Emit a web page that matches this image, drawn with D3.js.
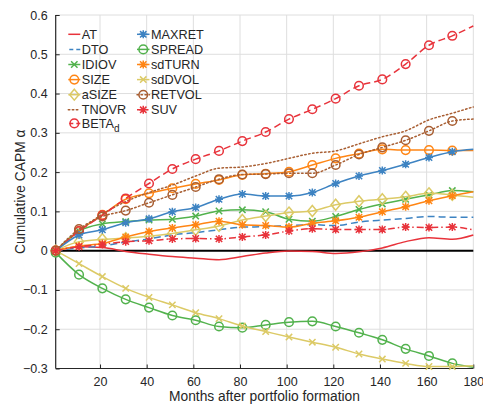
<!DOCTYPE html>
<html>
<head>
<meta charset="utf-8">
<script src="https://cdn.jsdelivr.net/npm/d3@7"></script>
<style>
  html, body { margin: 0; padding: 0; background: #fff; }
  svg { display: block; font-family: "Liberation Sans", Arial, Helvetica, sans-serif; }
</style>
</head>
<body>
<svg id="chart" width="483" height="405"></svg>
<script>
// Months after portfolio formation at which each alpha series is sampled
const months = [1, 11, 21, 31, 41, 51, 61, 71, 81, 91, 101, 111, 121, 131, 141, 151, 161, 171, 180];

// Cumulative CAPM alpha for each anomaly portfolio
const AT     = [0, 0.010, 0.008, -0.002, -0.009, -0.015, -0.019, -0.023, -0.015, -0.006, -0.001, -0.002, -0.007, -0.003, 0.007, 0.023, 0.033, 0.029, 0.040];
const DTO    = [0, 0.007, 0.012, 0.022, 0.030, 0.040, 0.046, 0.053, 0.060, 0.061, 0.064, 0.066, 0.064, 0.073, 0.078, 0.082, 0.087, 0.085, 0.085];
const IDIOV  = [0, 0.050, 0.068, 0.074, 0.078, 0.080, 0.088, 0.101, 0.104, 0.099, 0.080, 0.075, 0.087, 0.105, 0.119, 0.131, 0.142, 0.153, 0.150];
const SIZE   = [0, 0.050, 0.091, 0.131, 0.146, 0.159, 0.170, 0.180, 0.193, 0.196, 0.201, 0.218, 0.235, 0.247, 0.258, 0.256, 0.256, 0.255, 0.255];
const aSIZE  = [0, 0.023, 0.029, 0.032, 0.037, 0.044, 0.053, 0.063, 0.078, 0.088, 0.097, 0.101, 0.117, 0.126, 0.131, 0.137, 0.146, 0.142, 0.136];
const TNOVR  = [0, 0.050, 0.093, 0.125, 0.148, 0.167, 0.190, 0.210, 0.213, 0.222, 0.235, 0.248, 0.254, 0.272, 0.290, 0.305, 0.333, 0.350, 0.366];
const BETAd  = [0, 0.050, 0.090, 0.133, 0.171, 0.208, 0.233, 0.254, 0.279, 0.302, 0.335, 0.360, 0.387, 0.420, 0.436, 0.475, 0.523, 0.547, 0.572];
const MAXRET = [0, 0.040, 0.053, 0.071, 0.081, 0.099, 0.110, 0.131, 0.144, 0.139, 0.139, 0.148, 0.171, 0.190, 0.204, 0.220, 0.237, 0.252, 0.258];
const SPREAD = [-0.005, -0.061, -0.096, -0.124, -0.145, -0.165, -0.177, -0.193, -0.196, -0.189, -0.182, -0.180, -0.193, -0.209, -0.227, -0.250, -0.268, -0.287, -0.297];
const sdTURN = [0, 0.012, 0.018, 0.035, 0.049, 0.058, 0.066, 0.075, 0.066, 0.064, 0.060, 0.070, 0.076, 0.085, 0.099, 0.112, 0.127, 0.140, 0.150];
const sdDVOL = [0, -0.033, -0.066, -0.096, -0.119, -0.138, -0.158, -0.173, -0.192, -0.206, -0.220, -0.233, -0.246, -0.263, -0.276, -0.287, -0.295, -0.295, -0.293];
const RETVOL = [0, 0.055, 0.087, 0.102, 0.122, 0.142, 0.162, 0.182, 0.194, 0.195, 0.197, 0.197, 0.218, 0.245, 0.263, 0.281, 0.305, 0.330, 0.335];
const SUV    = [0, 0.010, 0.016, 0.023, 0.025, 0.030, 0.031, 0.030, 0.035, 0.040, 0.050, 0.056, 0.054, 0.054, 0.054, 0.060, 0.059, 0.060, 0.053];

// Axis ticks
const xTicks = [20, 40, 60, 80, 100, 120, 140, 160, 180];
const yTicks = [-0.3, -0.2, -0.1, 0, 0.1, 0.2, 0.3, 0.4, 0.5, 0.6];

// Palette
const RED = "#e8333b", BLUE = "#3d83c2", GREEN = "#52b24d", ORANGE = "#ff8514", KHAKI = "#dcca66", BROWN = "#a85e32";

// Series in drawing order (column-wise legend order)
const series = [
  { name: "AT",     values: AT,     color: RED,    dash: null,              marker: null },
  { name: "DTO",    values: DTO,    color: BLUE,   dash: "7,4",             marker: null },
  { name: "IDIOV",  values: IDIOV,  color: GREEN,  dash: null,              marker: "x" },
  { name: "SIZE",   values: SIZE,   color: ORANGE, dash: null,              marker: "o" },
  { name: "aSIZE",  values: aSIZE,  color: KHAKI,  dash: null,              marker: "d" },
  { name: "TNOVR",  values: TNOVR,  color: BROWN,  dash: "1.5,2.5",         marker: null },
  { name: "BETA",   sub: "d", values: BETAd, color: RED, dash: "7,4",       marker: "o" },
  { name: "MAXRET", values: MAXRET, color: BLUE,   dash: null,              marker: "*" },
  { name: "SPREAD", values: SPREAD, color: GREEN,  dash: null,              marker: "o" },
  { name: "sdTURN", values: sdTURN, color: ORANGE, dash: null,              marker: "*" },
  { name: "sdDVOL", values: sdDVOL, color: KHAKI,  dash: null,              marker: "x" },
  { name: "RETVOL", values: RETVOL, color: BROWN,  dash: "1.5,2.5",         marker: "o" },
  { name: "SUV",    values: SUV,    color: RED,    dash: "7,3,1.5,3",       marker: "*" }
];

const svg = d3.select("#chart");
const box = { left: 55.7, right: 473.3, top: 15, bottom: 368.5 };
const textColor = "#262626";

const x = d3.scaleLinear().domain([1, 180]).range([box.left, box.right]);
const y = d3.scaleLinear().domain([-0.3, 0.6]).range([box.bottom, box.top]);

// Grid
const grid = svg.append("g").attr("stroke", "#dedede").attr("stroke-width", 1);
grid.selectAll("line.gx").data(xTicks).join("line")
  .attr("x1", d => x(d)).attr("x2", d => x(d))
  .attr("y1", box.top).attr("y2", box.bottom);
grid.selectAll("line.gy").data(yTicks).join("line")
  .attr("x1", box.left).attr("x2", box.right)
  .attr("y1", d => y(d)).attr("y2", d => y(d));

// Axes with inward ticks
const xAxis = svg.append("g").attr("transform", `translate(0,${box.bottom})`)
  .call(d3.axisBottom(x).tickValues(xTicks).tickSize(-4).tickPadding(9).tickFormat(d3.format("d")));
const yAxis = svg.append("g").attr("transform", `translate(${box.left},0)`)
  .call(d3.axisLeft(y).tickValues(yTicks).tickSize(-4).tickPadding(8)
    .tickFormat(d => d === 0 ? "0" : d3.format(".1f")(d)));
[xAxis, yAxis].forEach(a => {
  a.select(".domain").attr("stroke", textColor).attr("stroke-width", 1.2);
  a.selectAll(".tick line").attr("stroke", textColor).attr("stroke-width", 1);
  a.selectAll(".tick text").attr("fill", textColor).style("font-size", "12.5px")
    .style("font-family", "'Liberation Sans', Arial, sans-serif");
});
xAxis.select(".domain").attr("d", `M${box.left},0H${box.right}`);
yAxis.select(".domain").attr("d", `M0,${box.bottom}V${box.top}`);

// Zero reference line
svg.append("line")
  .attr("x1", box.left).attr("x2", box.right)
  .attr("y1", y(0)).attr("y2", y(0))
  .attr("stroke", "#000").attr("stroke-width", 2);

// Marker drawing helper
function drawMarker(g, type, cx, cy, color) {
  const sw = 1.5;
  if (type === "o") {
    g.append("circle").attr("cx", cx).attr("cy", cy).attr("r", 4.3)
      .attr("fill", "none").attr("stroke", color).attr("stroke-width", sw);
  } else if (type === "d") {
    g.append("path")
      .attr("d", `M${cx},${cy - 5.5}L${cx + 4.6},${cy}L${cx},${cy + 5.5}L${cx - 4.6},${cy}Z`)
      .attr("fill", "none").attr("stroke", color).attr("stroke-width", sw);
  } else if (type === "x") {
    const s = 3.2;
    g.append("path")
      .attr("d", `M${cx - s},${cy - s}L${cx + s},${cy + s}M${cx - s},${cy + s}L${cx + s},${cy - s}`)
      .attr("stroke", color).attr("stroke-width", sw);
  } else if (type === "*") {
    const s = 3.2, t = 4;
    g.append("path")
      .attr("d", `M${cx - s},${cy - s}L${cx + s},${cy + s}M${cx - s},${cy + s}L${cx + s},${cy - s}M${cx - t},${cy}L${cx + t},${cy}M${cx},${cy - t}L${cx},${cy + t}`)
      .attr("stroke", color).attr("stroke-width", sw);
  }
}

// Lines and markers
const line = d3.line()
  .x(d => x(d[0])).y(d => y(d[1]))
  .curve(d3.curveMonotoneX);

const plot = svg.append("g");
series.forEach(s => {
  const pts = months.map((m, i) => [m, s.values[i]]);
  plot.append("path")
    .attr("d", line(pts))
    .attr("fill", "none")
    .attr("stroke", s.color)
    .attr("stroke-width", 1.5)
    .attr("stroke-linecap", s.dash === "1.5,2.5" ? "round" : "butt")
    .attr("stroke-dasharray", s.dash);
  if (s.marker) {
    const mg = plot.append("g");
    pts.filter(p => (p[0] - 1) % 10 === 0)
      .forEach(p => drawMarker(mg, s.marker, x(p[0]), y(p[1]), s.color));
  }
});

// Legend (two columns, filled column-wise)
const legend = svg.append("g");
const rowH = 15.1, row0 = 34.3;
const cols = [{ x0: 68.3, x1: 80.3 }, { x0: 137, x1: 149.5 }];
series.forEach((s, i) => {
  const col = i < 7 ? 0 : 1;
  const row = i < 7 ? i : i - 7;
  const c = cols[col];
  const ly = row0 + row * rowH - (s.sub ? 1.5 : 0);
  const g = legend.append("g");
  g.append("line")
    .attr("x1", c.x0).attr("x2", c.x1).attr("y1", ly).attr("y2", ly)
    .attr("stroke", s.color).attr("stroke-width", 1.5)
    .attr("stroke-linecap", s.dash === "1.5,2.5" ? "round" : "butt")
    .attr("stroke-dasharray", s.dash === "7,4" ? "4,3" : s.dash)
    .attr("stroke-dashoffset", s.dash === "7,4" ? -1 : 0);
  if (s.marker) drawMarker(g, s.marker, (c.x0 + c.x1) / 2, ly, s.color);
  const t = g.append("text")
    .attr("x", c.x1 + 1.5).attr("y", ly).attr("dy", "0.36em")
    .attr("fill", textColor).style("font-size", "12.7px")
    .text(s.name);
  if (s.sub) {
    t.append("tspan").attr("dy", "0.45em").style("font-size", "10px").text(s.sub);
  }
});

// Axis titles
svg.append("text")
  .attr("x", (box.left + box.right) / 2).attr("y", 401)
  .attr("text-anchor", "middle").attr("fill", textColor)
  .style("font-size", "13.8px")
  .text("Months after portfolio formation");
svg.append("text")
  .attr("transform", `translate(25,${(box.top + box.bottom) / 2}) rotate(-90)`)
  .attr("text-anchor", "middle").attr("fill", textColor)
  .style("font-size", "13.8px")
  .text("Cumulative CAPM α");
</script>
</body>
</html>
